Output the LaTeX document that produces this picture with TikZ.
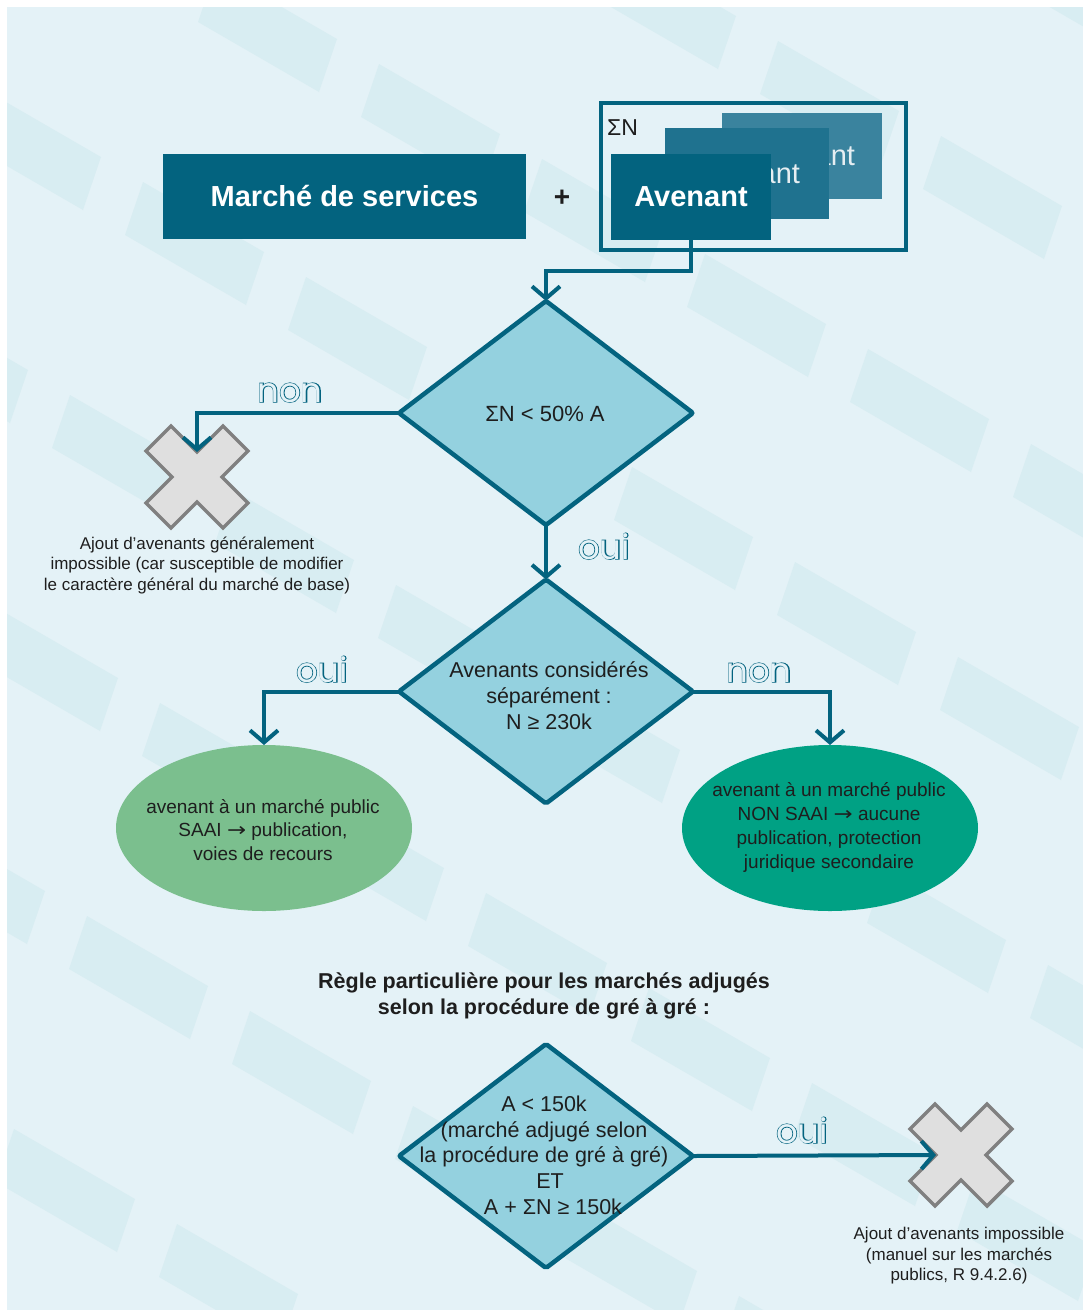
\documentclass[tikz,border=0pt]{standalone}
\usepackage{fontspec}
\setmainfont{Liberation Sans}
\newfontfamily\labfont{Poppins}
\newfontfamily\labfontB{Poppins}[RawFeature={embolden=4}]
\newfontfamily\arrfont{DejaVu Sans}
\usetikzlibrary{shapes.geometric,arrows.meta}
\definecolor{dteal}{HTML}{03637F}
\definecolor{mteal}{HTML}{1F728F}
\definecolor{lteal}{HTML}{3A839E}
\definecolor{dfill}{HTML}{94D1DF}
\definecolor{bgc}{HTML}{E4F2F7}
\definecolor{stripec}{HTML}{D8EDF2}
\definecolor{egreen}{HTML}{7BBF8E}
\definecolor{eteal}{HTML}{00A184}
\definecolor{xfill}{HTML}{DFDFDF}
\definecolor{xline}{HTML}{808080}
\definecolor{txt}{HTML}{1E1E1E}
\definecolor{backtxt}{HTML}{E6EEF2}
\newcommand\rarr{\scalebox{1.2}[1]{\arrfont →}}
\tikzset{
  stripe/.pic={\fill[stripec] (0,0) -- ++(121,70) -- ++(-18,53) -- ++(-121,-70) -- cycle;},
  xmark/.pic={\filldraw[fill=xfill, draw=xline, line width=3.5pt, line join=miter]
    (-26,-51) -- (0,-25) -- (26,-51) -- (51,-26) -- (25,0) -- (51,26) -- (26,51) -- (0,25)
    -- (-26,51) -- (-51,26) -- (-25,0) -- (-51,-26) -- cycle;},
  boxbase/.style={rectangle, inner sep=0, outer sep=0},
  avbox/.style={boxbase, minimum width=160pt, minimum height=86pt},
  dia/.style={diamond, draw=dteal, line width=4.5pt, fill=dfill, minimum width=294pt,
    minimum height=224pt, inner sep=0, outer sep=0, rounded corners=2pt},
  ell/.style={ellipse, minimum width=296pt, minimum height=166pt, inner sep=0, outer sep=0},
  xanchor/.style={circle, minimum size=50pt, inner sep=0, outer sep=0},
  conn/.style={draw=dteal, line width=4pt, line join=miter, -{Straight Barb[length=12pt,width=28pt]}},
  tx/.style={text=txt, align=center, inner sep=0},
  labo/.style={inner sep=0, anchor=base, text=dteal, font={\labfontB\fontsize{34}{40}\selectfont}},
  labi/.style={inner sep=0, anchor=base, text=bgc, font={\labfont\fontsize{34}{40}\selectfont}},
}
\begin{document}
\begin{tikzpicture}[x=1pt,y=-1pt]
\useasboundingbox (0,0) rectangle (1083,1310);
\fill[white] (0,0) rectangle (1083,1310);
\fill[bgc] (7,7) rectangle (1083,1310);
\begin{scope}
  \clip (7,7) rectangle (1083,1310);
  \foreach \a in {-2,...,12}{
    \foreach \b in {-3,...,7}{
      \pic at ({216+163*\a-236*\b},{-31+95*\a+118*\b}) {stripe};
    }
  }
\end{scope}

% top row
\node[boxbase, fill=dteal, text=white, minimum width=363pt, minimum height=85pt,
  font=\fontsize{29}{34}\selectfont\bfseries] (ms) at (344.5,196.5) {Marché de services};
\node[inner sep=0, text=txt, font=\fontsize{28}{32}\selectfont\bfseries] (plus) at (562,198) {+};
\node[boxbase, draw=dteal, line width=3.5pt, minimum width=305pt, minimum height=147pt] (sn) at (753.5,176.5) {};
\node[inner sep=0, anchor=base west, text=txt, font=\fontsize{23}{27}\selectfont] (snl) at (607,135) {ΣN};
\node[avbox, fill=lteal, text=backtxt, font=\fontsize{29}{34}\selectfont] (av3) at (802,156) {Avenant};
\node[avbox, fill=mteal, text=backtxt, minimum width=164pt, minimum height=91pt, font=\fontsize{29}{34}\selectfont] (av2) at (747,173.5) {Avenant};
\node[avbox, fill=dteal, text=white, font=\fontsize{29}{34}\selectfont\bfseries] (av1) at (691,197) {Avenant};

% diamonds
\node[dia] (d1) at (546,413) {};
\node[tx, font=\fontsize{22}{26}\selectfont] (d1t) at (545,414) {ΣN < 50\% A};
\node[dia] (d2) at (546,691.5) {};
\node[tx, font=\fontsize{21.5}{26}\selectfont] (d2t) at (549,696) {Avenants considérés\\séparément :\\N ≥ 230k};
\node[dia] (d3) at (546,1156) {};
\node[tx, font=\fontsize{21.5}{25.7}\selectfont] (d3t) at (544,1155) {A < 150k\\(marché adjugé selon\\la procédure de gré à gré)\\\hspace*{12pt}ET\\\hspace*{18pt}A + ΣN ≥ 150k};

% ellipses
\node[ell, fill=egreen] (le) at (264,828) {};
\node[tx, font=\fontsize{19}{23.5}\selectfont] (let) at (263,830) {avenant à un marché public\\SAAI \rarr{} publication,\\voies de recours};
\node[ell, fill=eteal] (re) at (830,828) {};
\node[tx, font=\fontsize{19}{24}\selectfont] (ret) at (829,827) {avenant à un marché public\\NON SAAI \rarr{} aucune\\publication, protection\\juridique secondaire};

% crosses
\node[xanchor] (x1) at (197,477) {};
\pic at (x1) {xmark};
\node[tx, font=\fontsize{17}{20.5}\selectfont] (x1t) at (197,565) {Ajout d’avenants généralement\\impossible (car susceptible de modifier\\le caractère général du marché de base)};
\node[xanchor] (x2) at (961,1155) {};
\pic at (x2) {xmark};
\node[tx, font=\fontsize{17}{20.5}\selectfont] (x2t) at (959,1256) {Ajout d’avenants impossible\\(manuel sur les marchés\\publics, R 9.4.2.6)};

% heading
\node[tx, font=\fontsize{21.5}{26}\selectfont\bfseries] (head) at (544,996) {Règle particulière pour les marchés adjugés\\selon la procédure de gré à gré :};

% connectors
\draw[conn] (av1.south) -- ++(0,31) -| (d1.north);
\draw[conn] (d1.west) -| (x1.north);
\draw[conn] (d1.south) -- (d2.north);
\draw[conn] (d2.west) -| (le.north);
\draw[conn] (d2.east) -| (re.north);
\draw[conn] (d3.east) -- (x2.west);

% outlined labels
\node[labo] (l1o) at (290,402) {non};
\node[labi] (l1) at (290,402) {non};
\node[labo] (l2o) at (604,559) {oui};
\node[labi] (l2) at (604,559) {oui};
\node[labo] (l3o) at (322,682) {oui};
\node[labi] (l3) at (322,682) {oui};
\node[labo] (l4o) at (759,682) {non};
\node[labi] (l4) at (759,682) {non};
\node[labo] (l5o) at (802,1143) {oui};
\node[labi] (l5) at (802,1143) {oui};
\end{tikzpicture}
\end{document}
